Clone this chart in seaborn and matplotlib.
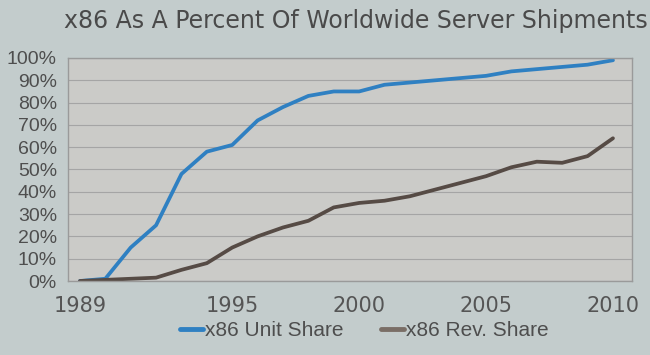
import matplotlib
matplotlib.use("Agg")
import matplotlib.pyplot as plt
import seaborn as sns
import pandas as pd
from matplotlib.ticker import FuncFormatter
from matplotlib.lines import Line2D

years = list(range(1989, 2011))
unit_share = [0, 1, 15, 25, 48, 58, 61, 72, 78, 83, 85, 85, 88, 89, 90, 91, 92, 94, 95, 96, 97, 99]
rev_share = [0, 0.5, 1, 1.5, 5, 8, 15, 20, 24, 27, 33, 35, 36, 38, 41, 44, 47, 51, 53.5, 53, 56, 64]
series_names = ["x86 Unit Share", "x86 Rev. Share"]
x_ticks = [1989, 1995, 2000, 2005, 2010]
y_ticks = [0, 10, 20, 30, 40, 50, 60, 70, 80, 90, 100]
title = "x86 As A Percent Of Worldwide Server Shipments"

df = pd.concat([
    pd.DataFrame({"year": years, "share": unit_share, "series": series_names[0]}),
    pd.DataFrame({"year": years, "share": rev_share, "series": series_names[1]}),
])

sns.set_theme(style="white")
plt.rcParams["font.family"] = ["DejaVu Sans"]

fig = plt.figure(figsize=(6.5, 3.55), dpi=100, facecolor="#c3cccc")
ax = fig.add_axes([68/650, 1 - 281/355, (632-68)/650, (281-58)/355])
ax.set_facecolor("#cbcbc8")

sns.lineplot(data=df, x="year", y="share", hue="series", ax=ax,
             palette=["#2f80c2", "#564b45"], linewidth=2.7, legend=False)

ax.set_xlim(1988.53, 2010.75)
ax.set_ylim(0, 100)
ax.set_yticks(y_ticks)
ax.yaxis.set_major_formatter(FuncFormatter(lambda v, p: f"{int(v)}%"))
ax.set_xticks(x_ticks)
ax.set_xticklabels([str(t) for t in x_ticks], fontsize=15, color="#555555")
for lab in ax.get_yticklabels():
    lab.set_fontfamily("Liberation Sans")
    lab.set_fontsize(14)
    lab.set_color("#4e4e4e")
ax.tick_params(axis="y", pad=8, length=0)
ax.tick_params(axis="x", pad=11, length=0)
ax.grid(axis="y", color="#a5a5a5", linewidth=0.8)
ax.set_axisbelow(True)
for s in ax.spines.values():
    s.set_color("#9a9a9a")
    s.set_linewidth(1.0)
ax.set_xlabel("")
ax.set_ylabel("")

fig.text(64/650, 1 - 21/355, title, fontsize=17, color="#4a4a4a", va="center", ha="left")

handles = [Line2D([], [], color="#2f80c2", linewidth=3.5),
           Line2D([], [], color="#7a6e66", linewidth=3.5)]
fig.legend(handles, series_names, loc="center", bbox_to_anchor=(0.56, 1 - 331/355),
           ncol=2, frameon=False, handlelength=1.1, handletextpad=0.1, columnspacing=1.8,
           prop={"family": "Liberation Sans", "size": 15}, labelcolor="#4e4e4e")

fig.savefig("out.png", dpi=100, facecolor=fig.get_facecolor())
